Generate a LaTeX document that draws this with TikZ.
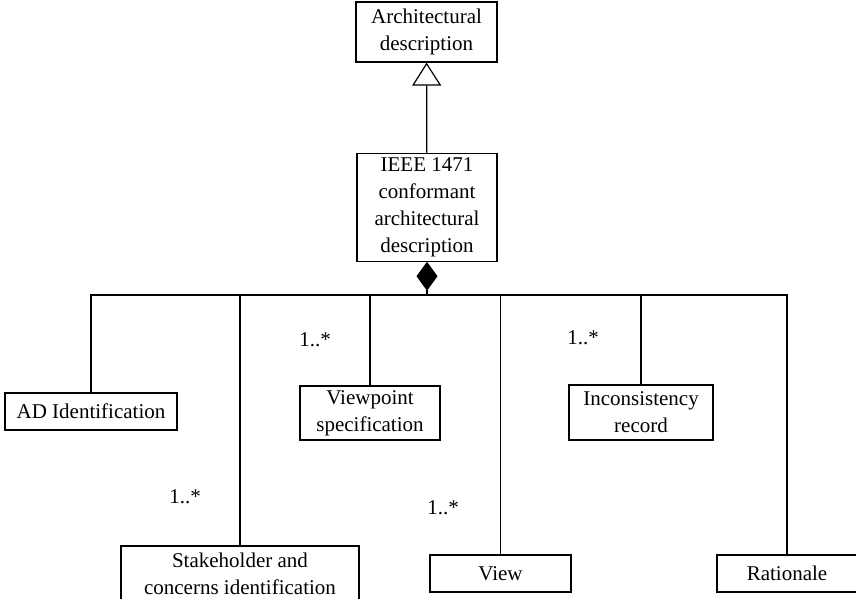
\documentclass[tikz,border=0pt]{standalone}
\usepackage{fontspec}
\setmainfont{Liberation Serif}
\usepackage{tikz}
\usetikzlibrary{positioning,calc,arrows.meta}

\tikzset{
    cls/.style={draw, align=center, inner sep=2pt, font=\fontsize{10.5}{13.5}\selectfont},
    mult/.style={font=\fontsize{10.5}{13.5}\selectfont, inner sep=0pt},
    link/.style={line width=0.6pt},
}

\begin{document}
\begin{tikzpicture}[x=0.5pt, y=-0.5pt, line width=0.6pt]
    \useasboundingbox (0,0) rectangle (856,599);

    % Classes
    \node[cls, minimum width=70.5pt, minimum height=30pt] (arch) at (426.5,32) {Architectural\\description};
    \node[cls, minimum width=70pt, minimum height=52.5pt] (ieee) at (427,207.5) {IEEE 1471\\conformant\\architectural\\description};

    \node[cls, minimum width=86pt, minimum height=18.5pt] (adid) at (91,411.5) {AD Identification};
    \node[cls, minimum width=119pt, minimum height=28pt] (stake) at (240,574) {Stakeholder and\\concerns identification};
    \node[cls, minimum width=70pt, minimum height=27pt] (vp) at (370,413) {Viewpoint\\specification};
    \node[cls, minimum width=70.5pt, minimum height=18.5pt] (view) at (500.5,573.5) {View};
    \node[cls, minimum width=72pt, minimum height=27.5pt] (incons) at (641,412.5) {Inconsistency\\record};
    \node[cls, minimum width=70pt, minimum height=18.5pt] (rat) at (787,573.5) {Rationale};

    % Generalization
    \draw[link, -{Triangle[open, length=11.5pt, width=14.5pt]}] (ieee) -- (arch);

    % Composition
    \coordinate (bus) at (427,295);
    \draw[link, {Diamond[length=14.5pt, width=10.5pt]}-] (ieee.south) -- (bus);
    \foreach \part in {adid, stake, vp, view, incons, rat}
        \draw[link] (\part.north) |- (bus);

    % Multiplicities
    \node[mult] (mvp) at (315,340) {1..*};
    \node[mult] (mstake) at (185,497) {1..*};
    \node[mult] (mview) at (443,508) {1..*};
    \node[mult] (mincons) at (583,338) {1..*};
\end{tikzpicture}
\end{document}
